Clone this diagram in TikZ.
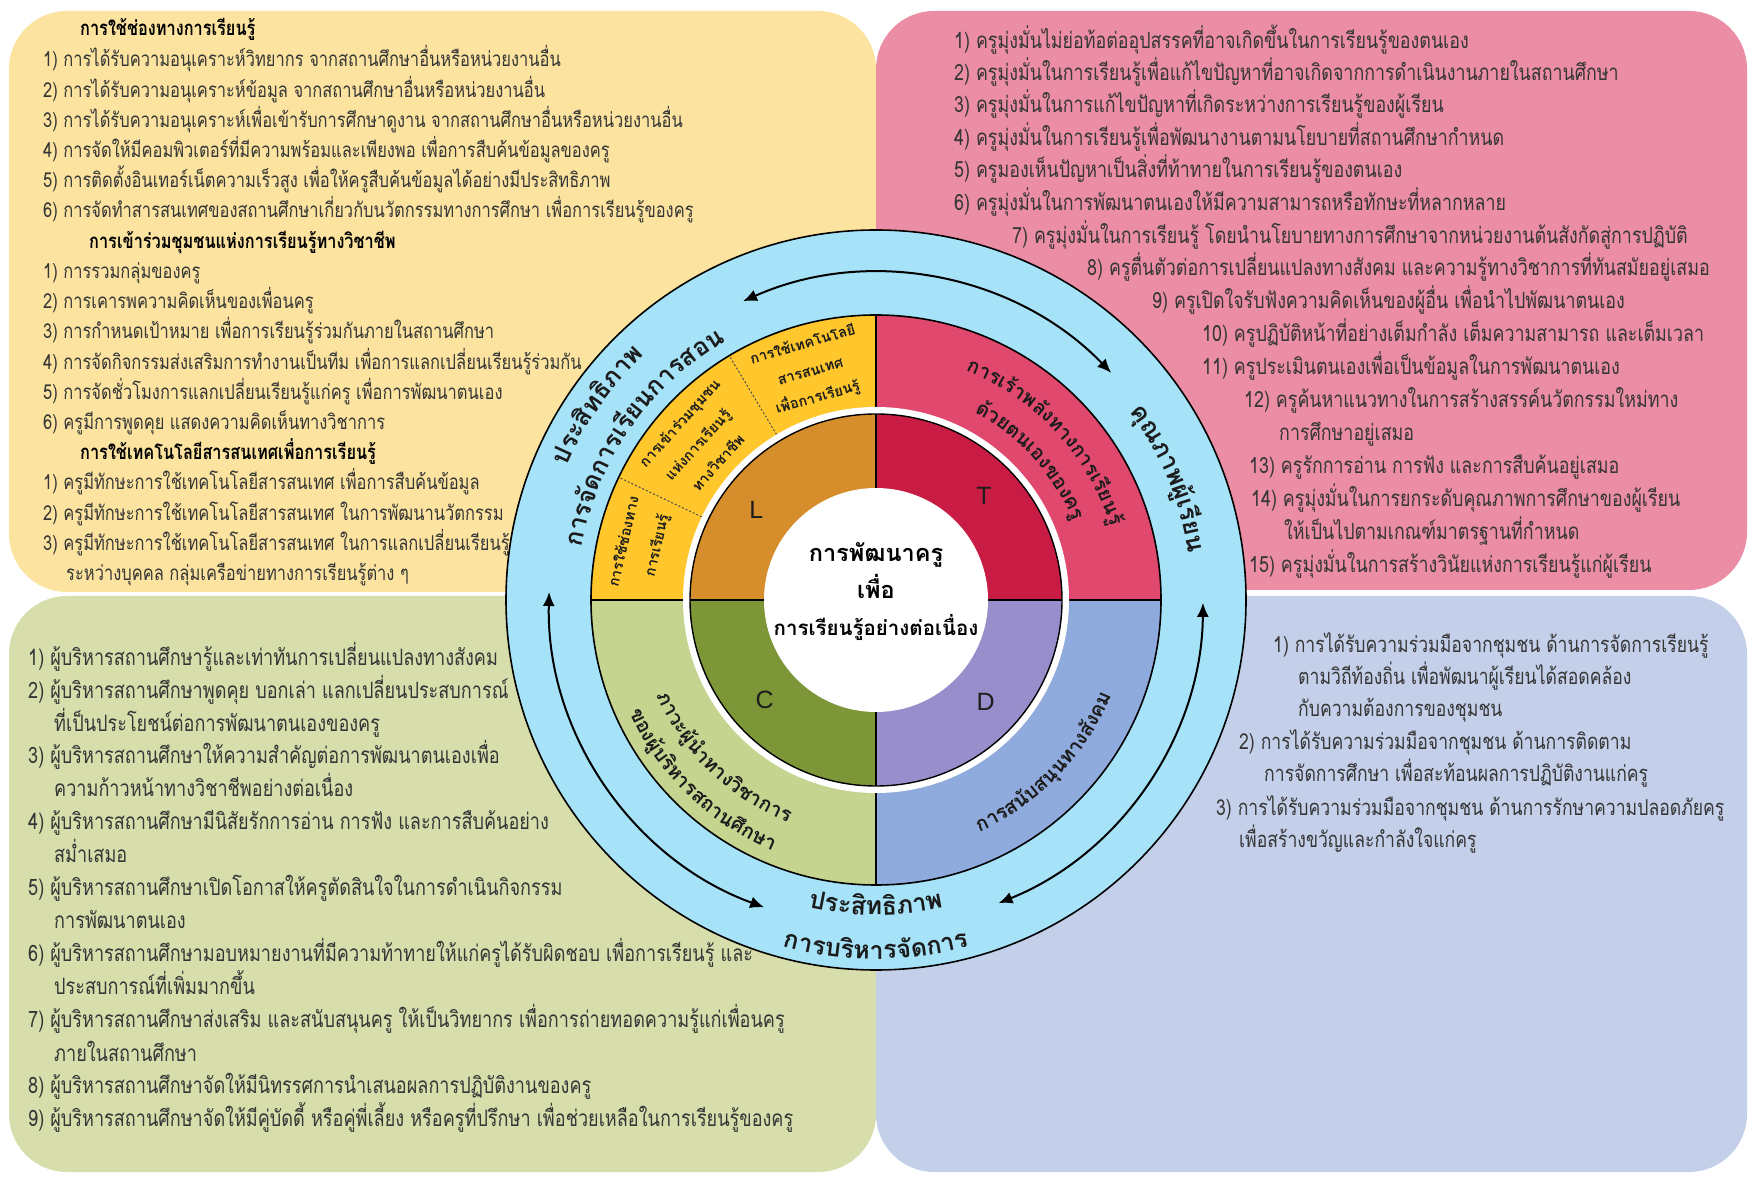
\documentclass[tikz,border=0pt]{standalone}
\usepackage{fontspec}
\setmainfont{Liberation Sans}
\newfontfamily\thai[Script=Thai]{Loma}
\newfontfamily\thaibody[Script=Thai,FakeStretch=0.8]{Loma}
\usetikzlibrary{arrows.meta}

% panel and ring colours
\definecolor{bgTL}{HTML}{FCE4A0}
\definecolor{bgTR}{HTML}{EB8DA5}
\definecolor{bgBL}{HTML}{D7DEAC}
\definecolor{bgBR}{HTML}{C4D0EA}
\definecolor{ringblue}{HTML}{A6E2F8}
\definecolor{midL}{HTML}{FFC72C}
\definecolor{midT}{HTML}{E1486E}
\definecolor{midC}{HTML}{C5D48E}
\definecolor{midD}{HTML}{8FAADC}
\definecolor{inL}{HTML}{D68E2C}
\definecolor{inT}{HTML}{C91C44}
\definecolor{inC}{HTML}{7C9638}
\definecolor{inD}{HTML}{998ECC}
\definecolor{txtgray}{HTML}{363636}
\definecolor{labdark}{HTML}{1C1C1C}

% width of a piece of text, measured outside the picture's null font
\newlength\chw
\newcommand\measurechunk[2]{%
  \pgfinterruptpicture
    \settowidth\chw{#1#2}\global\chw=\chw
  \endpgfinterruptpicture
  \xdef\chwidth{\the\chw}}

% text set along a circle: font, baseline radius, centre angle,
% direction (+1 counter-clockwise, letters inward; -1 clockwise, letters outward), clusters
\newcommand\arclabel[5]{%
  \xdef\arcsum{0}%
  \foreach \pc in {#5}{%
    \measurechunk{#1}{\pc}%
    \pgfmathsetmacro\arcnew{\arcsum+\chwidth}%
    \xdef\arcsum{\arcnew}}%
  \pgfmathsetmacro\arcstart{#3-(#4)*0.5*\arcsum/(#2)*57.29578}%
  \xdef\arcang{\arcstart}%
  \foreach \pc in {#5}{%
    \measurechunk{#1}{\pc}%
    \pgfmathsetmacro\arcmid{\arcang+(#4)*0.5*\chwidth/(#2)*57.29578}%
    \pgfmathsetmacro\arcrot{\arcmid+(#4)*90}%
    \node[rotate=\arcrot, anchor=base, inner sep=0pt, text=labdark] at (\arcmid:#2) {#1\pc};%
    \pgfmathsetmacro\arcnext{\arcang+(#4)*\chwidth/(#2)*57.29578}%
    \xdef\arcang{\arcnext}}%
}

\newcommand\ringfont{\thai\bfseries\fontsize{25}{25}\selectfont}
\newcommand\midfont{\thai\bfseries\fontsize{20}{20}\selectfont}

\tikzset{
  bodytxt/.style={anchor=base west, inner sep=0pt, text=txtgray,
    font=\thaibody\fontsize{21}{21}\selectfont},
  tltxt/.style={bodytxt, font=\thaibody\fontsize{20.6}{20.6}\selectfont},
  trtxt/.style={bodytxt, font=\thaibody\fontsize{22.3}{22.3}\selectfont},
  bltxt/.style={bodytxt, font=\thaibody\fontsize{22.6}{22.6}\selectfont},
  brtxt/.style={bodytxt, font=\thaibody\fontsize{22}{22}\selectfont},
  headtxt/.style={bodytxt, text=black, font=\thaibody\bfseries\fontsize{20.4}{20.4}\selectfont},
  sectxt/.style={anchor=base, inner sep=0pt, text=labdark,
    font=\thai\bfseries\fontsize{14.5}{14.5}\selectfont},
  quadletter/.style={inner sep=0pt, text=labdark, font=\fontsize{25}{25}\selectfont},
  centretxt/.style={anchor=base, inner sep=0pt, text=black,
    font=\thai\bfseries\fontsize{23.5}{23.5}\selectfont},
  centresmall/.style={centretxt, font=\thai\bfseries\fontsize{20.5}{20.5}\selectfont},
  ringarrow/.style={line width=2pt, {Latex[length=14pt,width=12pt]}-{Latex[length=14pt,width=12pt]}},
  panel/.style={rounded corners=58pt}
}

% one list line: style, name, left x, distance of the text middle from the top edge, text
\newcommand\bline[5]{\node[#1] (#2) at (#3,{1170-#4}) {#5};}

\begin{document}
\begin{tikzpicture}[x=1pt,y=1pt]
\useasboundingbox (0,0) rectangle (1754,1176);
\fill[white] (0,0) rectangle (1754,1176);

% four background panels
\fill[bgTL, panel] (9,584) rectangle (876,1165);
\fill[bgTR, panel] (876,586) rectangle (1747,1165);
\fill[bgBL, panel] (9,4) rectangle (876,580);
\fill[bgBR, panel] (876,4) rectangle (1747,580);

% upper left panel
\bline{headtxt}{tlh1}{80}{30}{การใช้ช่องทางการเรียนรู้}
\bline{tltxt}{tla1}{43}{61}{1) การได้รับความอนุเคราะห์วิทยากร จากสถานศึกษาอื่นหรือหน่วยงานอื่น}
\bline{tltxt}{tla2}{43}{92}{2) การได้รับความอนุเคราะห์ข้อมูล จากสถานศึกษาอื่นหรือหน่วยงานอื่น}
\bline{tltxt}{tla3}{43}{122}{3) การได้รับความอนุเคราะห์เพื่อเข้ารับการศึกษาดูงาน จากสถานศึกษาอื่นหรือหน่วยงานอื่น}
\bline{tltxt}{tla4}{43}{152}{4) การจัดให้มีคอมพิวเตอร์ที่มีความพร้อมและเพียงพอ เพื่อการสืบค้นข้อมูลของครู}
\bline{tltxt}{tla5}{43}{182}{5) การติดตั้งอินเทอร์เน็ตความเร็วสูง เพื่อให้ครูสืบค้นข้อมูลได้อย่างมีประสิทธิภาพ}
\bline{tltxt}{tla6}{43}{212}{6) การจัดทำสารสนเทศของสถานศึกษาเกี่ยวกับนวัตกรรมทางการศึกษา เพื่อการเรียนรู้ของครู}
\bline{headtxt}{tlh2}{89}{243}{การเข้าร่วมชุมชนแห่งการเรียนรู้ทางวิชาชีพ}
\bline{tltxt}{tlb1}{43}{273}{1) การรวมกลุ่มของครู}
\bline{tltxt}{tlb2}{43}{303}{2) การเคารพความคิดเห็นของเพื่อนครู}
\bline{tltxt}{tlb3}{43}{333}{3) การกำหนดเป้าหมาย เพื่อการเรียนรู้ร่วมกันภายในสถานศึกษา}
\bline{tltxt}{tlb4}{43}{364}{4) การจัดกิจกรรมส่งเสริมการทำงานเป็นทีม เพื่อการแลกเปลี่ยนเรียนรู้ร่วมกัน}
\bline{tltxt}{tlb5}{43}{394}{5) การจัดชั่วโมงการแลกเปลี่ยนเรียนรู้แก่ครู เพื่อการพัฒนาตนเอง}
\bline{tltxt}{tlb6}{43}{424}{6) ครูมีการพูดคุย แสดงความคิดเห็นทางวิชาการ}
\bline{headtxt}{tlh3}{80}{454}{การใช้เทคโนโลยีสารสนเทศเพื่อการเรียนรู้}
\bline{tltxt}{tlc1}{43}{484}{1) ครูมีทักษะการใช้เทคโนโลยีสารสนเทศ เพื่อการสืบค้นข้อมูล}
\bline{tltxt}{tlc2}{43}{515}{2) ครูมีทักษะการใช้เทคโนโลยีสารสนเทศ ในการพัฒนานวัตกรรม}
\bline{tltxt}{tlc3}{43}{545}{3) ครูมีทักษะการใช้เทคโนโลยีสารสนเทศ ในการแลกเปลี่ยนเรียนรู้}
\bline{tltxt}{tlc3b}{66}{575}{ระหว่างบุคคล กลุ่มเครือข่ายทางการเรียนรู้ต่าง ๆ}

% upper right panel
\bline{trtxt}{tr1}{954}{43}{1) ครูมุ่งมั่นไม่ย่อท้อต่ออุปสรรคที่อาจเกิดขึ้นในการเรียนรู้ของตนเอง}
\bline{trtxt}{tr2}{954}{75}{2) ครูมุ่งมั่นในการเรียนรู้เพื่อแก้ไขปัญหาที่อาจเกิดจากการดำเนินงานภายในสถานศึกษา}
\bline{trtxt}{tr3}{954}{107}{3) ครูมุ่งมั่นในการแก้ไขปัญหาที่เกิดระหว่างการเรียนรู้ของผู้เรียน}
\bline{trtxt}{tr4}{954}{140}{4) ครูมุ่งมั่นในการเรียนรู้เพื่อพัฒนางานตามนโยบายที่สถานศึกษากำหนด}
\bline{trtxt}{tr5}{954}{172}{5) ครูมองเห็นปัญหาเป็นสิ่งที่ท้าทายในการเรียนรู้ของตนเอง}
\bline{trtxt}{tr6}{954}{205}{6) ครูมุ่งมั่นในการพัฒนาตนเองให้มีความสามารถหรือทักษะที่หลากหลาย}
\bline{trtxt}{tr7}{1012}{238}{7) ครูมุ่งมั่นในการเรียนรู้ โดยนำนโยบายทางการศึกษาจากหน่วยงานต้นสังกัดสู่การปฏิบัติ}
\bline{trtxt}{tr8}{1087}{270}{8) ครูตื่นตัวต่อการเปลี่ยนแปลงทางสังคม และความรู้ทางวิชาการที่ทันสมัยอยู่เสมอ}
\bline{trtxt}{tr9}{1152}{303}{9) ครูเปิดใจรับฟังความคิดเห็นของผู้อื่น เพื่อนำไปพัฒนาตนเอง}
\bline{trtxt}{tr10}{1202}{336}{10) ครูปฏิบัติหน้าที่อย่างเต็มกำลัง เต็มความสามารถ และเต็มเวลา}
\bline{trtxt}{tr11}{1202}{369}{11) ครูประเมินตนเองเพื่อเป็นข้อมูลในการพัฒนาตนเอง}
\bline{trtxt}{tr12}{1244}{402}{12) ครูค้นหาแนวทางในการสร้างสรรค์นวัตกรรมใหม่ทาง}
\bline{trtxt}{tr12b}{1279}{435}{การศึกษาอยู่เสมอ}
\bline{trtxt}{tr13}{1249}{468}{13) ครูรักการอ่าน การฟัง และการสืบค้นอยู่เสมอ}
\bline{trtxt}{tr14}{1251}{501}{14) ครูมุ่งมั่นในการยกระดับคุณภาพการศึกษาของผู้เรียน}
\bline{trtxt}{tr14b}{1284}{534}{ให้เป็นไปตามเกณฑ์มาตรฐานที่กำหนด}
\bline{trtxt}{tr15}{1249}{567}{15) ครูมุ่งมั่นในการสร้างวินัยแห่งการเรียนรู้แก่ผู้เรียน}

% lower left panel
\bline{bltxt}{bl1}{28}{660}{1) ผู้บริหารสถานศึกษารู้และเท่าทันการเปลี่ยนแปลงทางสังคม}
\bline{bltxt}{bl2}{28}{693}{2) ผู้บริหารสถานศึกษาพูดคุย บอกเล่า แลกเปลี่ยนประสบการณ์}
\bline{bltxt}{bl2b}{54}{726}{ที่เป็นประโยชน์ต่อการพัฒนาตนเองของครู}
\bline{bltxt}{bl3}{28}{758}{3) ผู้บริหารสถานศึกษาให้ความสำคัญต่อการพัฒนาตนเองเพื่อ}
\bline{bltxt}{bl3b}{54}{791}{ความก้าวหน้าทางวิชาชีพอย่างต่อเนื่อง}
\bline{bltxt}{bl4}{28}{824}{4) ผู้บริหารสถานศึกษามีนิสัยรักการอ่าน การฟัง และการสืบค้นอย่าง}
\bline{bltxt}{bl4b}{54}{857}{สม่ำเสมอ}
\bline{bltxt}{bl5}{28}{890}{5) ผู้บริหารสถานศึกษาเปิดโอกาสให้ครูตัดสินใจในการดำเนินกิจกรรม}
\bline{bltxt}{bl5b}{54}{923}{การพัฒนาตนเอง}
\bline{bltxt}{bl6}{28}{956}{6) ผู้บริหารสถานศึกษามอบหมายงานที่มีความท้าทายให้แก่ครูได้รับผิดชอบ เพื่อการเรียนรู้ และ}
\bline{bltxt}{bl6b}{54}{989}{ประสบการณ์ที่เพิ่มมากขึ้น}
\bline{bltxt}{bl7}{28}{1021}{7) ผู้บริหารสถานศึกษาส่งเสริม และสนับสนุนครู ให้เป็นวิทยากร เพื่อการถ่ายทอดความรู้แก่เพื่อนครู}
\bline{bltxt}{bl7b}{54}{1055}{ภายในสถานศึกษา}
\bline{bltxt}{bl8}{28}{1087}{8) ผู้บริหารสถานศึกษาจัดให้มีนิทรรศการนำเสนอผลการปฏิบัติงานของครู}
\bline{bltxt}{bl9}{28}{1120}{9) ผู้บริหารสถานศึกษาจัดให้มีคู่บัดดี้ หรือคู่พี่เลี้ยง หรือครูที่ปรึกษา เพื่อช่วยเหลือในการเรียนรู้ของครู}

% lower right panel
\bline{brtxt}{br1}{1273}{647}{1) การได้รับความร่วมมือจากชุมชน ด้านการจัดการเรียนรู้}
\bline{brtxt}{br1b}{1298}{679}{ตามวิถีท้องถิ่น เพื่อพัฒนาผู้เรียนได้สอดคล้อง}
\bline{brtxt}{br1c}{1298}{711}{กับความต้องการของชุมชน}
\bline{brtxt}{br2}{1239}{744}{2) การได้รับความร่วมมือจากชุมชน ด้านการติดตาม}
\bline{brtxt}{br2b}{1264}{776}{การจัดการศึกษา เพื่อสะท้อนผลการปฏิบัติงานแก่ครู}
\bline{brtxt}{br3}{1216}{810}{3) การได้รับความร่วมมือจากชุมชน ด้านการรักษาความปลอดภัยครู}
\bline{brtxt}{br3b}{1239}{842}{เพื่อสร้างขวัญและกำลังใจแก่ครู}

% the wheel
\begin{scope}[shift={(876,576)}]
  % outer blue ring
  \filldraw[fill=ringblue, draw=black, line width=1.6pt] (0,0) circle[radius=370];
  % middle ring quadrants
  \fill[midT] (0,0) -- (0:285) arc[start angle=0, end angle=90, radius=285] -- cycle;
  \fill[midL] (0,0) -- (90:285) arc[start angle=90, end angle=180, radius=285] -- cycle;
  \fill[midC] (0,0) -- (180:285) arc[start angle=180, end angle=270, radius=285] -- cycle;
  \fill[midD] (0,0) -- (270:285) arc[start angle=270, end angle=360, radius=285] -- cycle;
  \draw[line width=1.6pt] (0,0) circle[radius=285];
  \draw[line width=1.4pt] (0:193) -- (0:285) (90:193) -- (90:285)
                          (180:193) -- (180:285) (270:193) -- (270:285);
  % dotted dividers of the upper left quadrant
  \draw[line width=1pt, dash pattern=on 2pt off 2pt, color=black!70] (154.5:193) -- (154.5:285);
  \draw[line width=1pt, dash pattern=on 2pt off 2pt, color=black!70] (121:193) -- (121:285);
  % white gap and inner ring
  \fill[white] (0,0) circle[radius=193];
  \fill[inT] (0,0) -- (0:186) arc[start angle=0, end angle=90, radius=186] -- cycle;
  \fill[inL] (0,0) -- (90:186) arc[start angle=90, end angle=180, radius=186] -- cycle;
  \fill[inC] (0,0) -- (180:186) arc[start angle=180, end angle=270, radius=186] -- cycle;
  \fill[inD] (0,0) -- (270:186) arc[start angle=270, end angle=360, radius=186] -- cycle;
  \draw[line width=1.4pt] (0,0) circle[radius=186];
  \draw[line width=1.4pt] (-186,0) -- (186,0) (0,-186) -- (0,186);
  \fill[white] (0,0) circle[radius=112];

  % centre
  \node[centretxt] (c1) at (0,38) {การพัฒนาครู};
  \node[centretxt] (c2) at (0,1) {เพื่อ};
  \node[centresmall] (c3) at (0,-36) {การเรียนรู้อย่างต่อเนื่อง};

  % quadrant letters
  \node[quadletter] (qL) at (143:150) {L};
  \node[quadletter] (qT) at (44:150) {T};
  \node[quadletter] (qC) at (222:150) {C};
  \node[quadletter] (qD) at (317:150) {D};

  % upper left quadrant: three sectors
  \node[sectxt, rotate=77] (s1a) at (167:254) {การใช้ช่องทาง};
  \node[sectxt, rotate=77] (s1b) at (166:221) {การเรียนรู้};
  \node[sectxt, rotate=48] (s2a) at (138:259) {การเข้าร่วมชุมชน};
  \node[sectxt, rotate=48] (s2b) at (139:231) {แห่งการเรียนรู้};
  \node[sectxt, rotate=48] (s2c) at (139:204) {ทางวิชาชีพ};
  \node[sectxt, rotate=16] (s3a) at (106:261) {การใช้เทคโนโลยี};
  \node[sectxt, rotate=16] (s3b) at (106:233) {สารสนเทศ};
  \node[sectxt, rotate=16] (s3c) at (106:206) {เพื่อการเรียนรู้};

  % middle ring texts
  \arclabel{\midfont}{246}{43}{-1}{ก,า,ร,เ,ร้,า,พ,ลั,ง,ท,า,ง,ก,า,ร,เ,รี,ย,น,รู้}
  \arclabel{\midfont}{212}{42}{-1}{ด้,ว,ย,ต,น,เ,อ,ง,ข,อ,ง,ค,รู}
  \arclabel{\midfont}{239}{226}{1}{ภ,า,ว,ะ,ผู้,นำ,ท,า,ง,วิ,ช,า,ก,า,ร}
  \arclabel{\midfont}{271}{226}{1}{ข,อ,ง,ผู้,บ,ริ,ห,า,ร,ส,ถ,า,น,ศึ,ก,ษ,า}
  \arclabel{\midfont}{254}{316}{1}{ก,า,ร,ส,นั,บ,ส,นุ,น,ท,า,ง,สั,ง,ค,ม}

  % blue ring texts
  \arclabel{\ringfont}{337}{145}{-1}{ป,ระ,สิ,ท,ธิ,ภ,า,พ}
  \arclabel{\ringfont}{299}{145}{-1}{ก,า,ร,จั,ด,ก,า,ร,เ,รี,ย,น,ก,า,ร,ส,อ,น}
  \arclabel{\ringfont}{316}{22.5}{-1}{คุ,ณ,ภ,า,พ,ผู้,เ,รี,ย,น}
  \arclabel{\ringfont}{315}{270}{1}{ป,ระ,สิ,ท,ธิ,ภ,า,พ}
  \arclabel{\ringfont}{359}{270}{1}{ก,า,ร,บ,ริ,ห,า,ร,จั,ด,ก,า,ร}

  % arrows running round the blue ring
  \coordinate (a1s) at (114:327); \coordinate (a2s) at (178.6:327); \coordinate (a3s) at (292:327);
  \draw[ringarrow] (a1s) arc[start angle=114, end angle=44, radius=327];
  \draw[ringarrow] (a2s) arc[start angle=178.6, end angle=250, radius=327];
  \draw[ringarrow] (a3s) arc[start angle=292, end angle=359.5, radius=327];
\end{scope}
\end{tikzpicture}
\end{document}
